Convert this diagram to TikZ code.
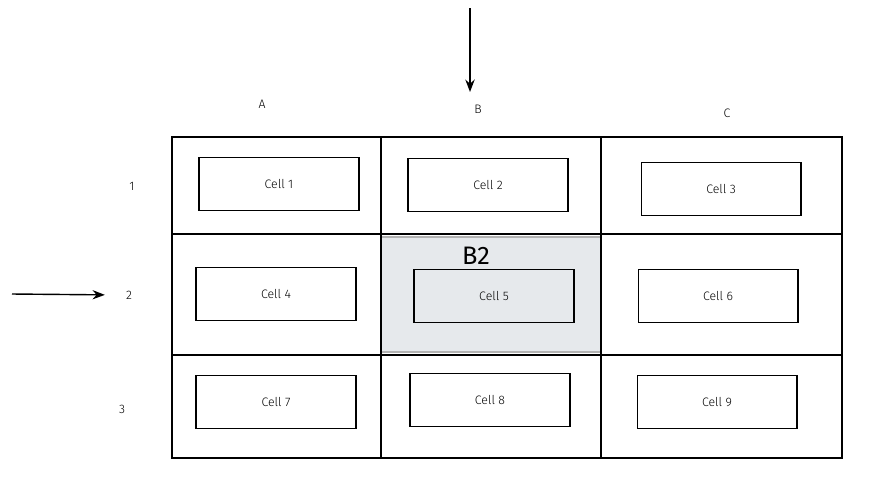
\documentclass[tikz,border=0pt]{standalone}
\usepackage{fontspec}
\setmainfont{Fira Sans Light}[BoldFont=Fira Sans]
\usetikzlibrary{arrows.meta}
\definecolor{hilite}{HTML}{E6E9EC}
\begin{document}
\begin{tikzpicture}[x=0.02cm,y=-0.02cm]
            \tikzset{cellbox/.style={draw, line width=0.6pt, minimum width=3.2cm, minimum height=1.06cm, font=\scriptsize},
                     gridline/.style={line width=0.6pt},
                     heading/.style={font=\scriptsize},
                     pointer/.style={line width=1.2pt,-{Stealth[length=7pt]}}}
            \useasboundingbox (0,0) rectangle (878,488);
            % highlighted cell
            \fill [hilite] (381,237) rectangle (601,352);
            \draw [line width=0.8pt, black!30] (381,237) rectangle (601,352);
            % grid
            \draw [gridline] (172,137) rectangle (842,458);
            \draw [gridline] (381,137) -- (381,458);
            \draw [gridline] (601,137) -- (601,458);
            \draw [gridline] (172,234) -- (842,234);
            \draw [gridline] (172,355) -- (842,355);
            % cells
            \node (c1) [cellbox] at (279,184) {Cell 1};
            \node (c2) [cellbox] at (488,185) {Cell 2};
            \node (c3) [cellbox] at (721,189) {Cell 3};
            \node (c4) [cellbox] at (276,294) {Cell 4};
            \node (c5) [cellbox, fill=hilite] at (494,296) {Cell 5};
            \node (c6) [cellbox] at (718,296) {Cell 6};
            \node (c7) [cellbox] at (276,402) {Cell 7};
            \node (c8) [cellbox] at (490,400) {Cell 8};
            \node (c9) [cellbox] at (717,402) {Cell 9};
            \node (b2) [font=\Large\bfseries] at (476,256) {B2};
            % headings
            \node (colA) [heading] at (262,104) {A};
            \node (colB) [heading] at (478,109) {B};
            \node (colC) [heading] at (727,113) {C};
            \node (row1) [heading] at (132,186) {1};
            \node (row2) [heading] at (129,295) {2};
            \node (row3) [heading] at (122,409) {3};
            % pointers
            \coordinate (top) at (470,8);
            \coordinate (left) at (12,294);
            \draw [pointer] (top) -- (470,92);
            \draw [pointer, line width=0.8pt, shorten >=0.3cm] (left) -- (row2.west);
\end{tikzpicture}
\end{document}
